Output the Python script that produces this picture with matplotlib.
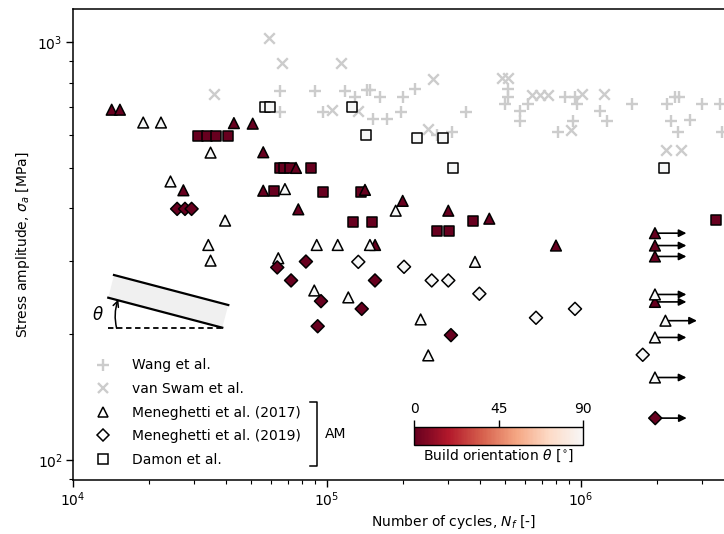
import numpy as np
import matplotlib
matplotlib.use("Agg")
import matplotlib.pyplot as plt
from matplotlib.colors import ListedColormap, Normalize
from matplotlib.cm import ScalarMappable
from matplotlib.lines import Line2D
from matplotlib.patches import Polygon

plt.rcParams['font.family'] = ['DejaVu Sans']
plt.rcParams['mathtext.fontset'] = 'dejavusans'

# ---------------- data ----------------
wang_N = [65300, 89700, 117800, 143300, 147700, 128900, 161700, 65300, 96700, 152200,
          171800, 198600, 222000, 195000, 270300, 309700, 352500, 514000, 514000, 502000,
          575000, 575000, 617000, 865000, 947000, 962000, 814000, 927000, 1.19e6, 1.262e6,
          1.59e6, 2.19e6, 2.34e6, 2.43e6, 2.26e6, 2.69e6, 2.40e6, 2.99e6, 3.52e6, 3.58e6]
wang_S = [762, 765, 765, 769, 769, 741, 741, 680, 680, 654,
          654, 741, 772, 679, 600, 611, 679, 772, 741, 711,
          683, 646, 711, 741, 741, 711, 611, 646, 683, 646,
          711, 711, 741, 741, 646, 652, 611, 711, 711, 611]

swam_N = [59300, 66300, 113600, 35900, 104300, 132800, 250500, 260700, 487000, 517000,
          640000, 690000, 743000, 1.01e6, 1.236e6, 914000, 2.17e6, 2.48e6]
swam_S = [1022, 891, 891, 752, 689, 683, 620, 817, 820, 820,
          748, 748, 748, 752, 752, 615, 553, 553]

# Meneghetti et al. (2017)
m17_N = [14200, 15300, 43000, 51000, 56100, 56100, 27200, 75500, 77100, 141100,
         154600, 198600, 300300, 435500, 797000, 1.955e6, 1.955e6, 1.955e6, 1.955e6,
         18900, 22200, 34800, 24200, 68300, 39700, 34100, 34800, 64300, 91100,
         110200, 147600, 89100, 121300, 186400, 382600, 233700, 250400,
         1.955e6, 2.15e6, 1.955e6, 1.955e6]
m17_S = [689, 689, 640, 638, 545, 441, 442, 500, 398, 443,
         327, 417, 395, 378, 326, 349, 326, 307, 239,
         642, 642, 544, 464, 445, 374, 327, 300, 304, 327,
         327, 327, 254.5, 245, 395, 298, 217, 178,
         249, 215.5, 196.5, 157.6]
m17_theta = [0] * 19 + [90] * 22
m17_runout = [0] * 15 + [1] * 4 + [0] * 18 + [1] * 4

# Meneghetti et al. (2019)
m19_N = [25700, 27600, 29300, 63700, 82600, 72200, 154500, 94700, 137000, 91900,
         307600, 1.96e6,
         132800, 201000, 258400, 300300, 398000, 665000, 947000, 1.75e6]
m19_S = [399, 399, 399, 289, 298.5, 269, 269, 240, 230, 209,
         199, 126,
         298, 290, 269, 269, 250, 219, 230, 178.6]
m19_theta = [0] * 12 + [90] * 8
m19_runout = [0] * 11 + [1] + [0] * 8

# Damon et al.
dam_N = [57000, 59700, 125100, 142400, 225600, 287100, 314000, 2.13e6,
         31150, 33600, 36450, 40850, 65300, 68000, 71200, 86200, 61800, 96200,
         135600, 126900, 150000, 376700, 270300, 303000, 3.40e6]
dam_S = [698, 698, 701, 599, 589, 591, 500, 500,
         597, 597, 597, 597, 500, 500, 500, 500, 441, 439,
         439, 372, 372, 374, 354, 354, 376]
dam_theta = [90] * 8 + [0] * 17

theta_ticks = [0, 45, 90]
x_ticks = [1e4, 1e5, 1e6]
y_ticks = [1e2, 1e3]

# ---------------- style ----------------
base = plt.get_cmap('RdBu')
cmap = ListedColormap(base(np.linspace(0.0, 0.5, 256)))
norm = Normalize(0, 90)
gray = '#cccccc'

fig = plt.figure(figsize=(7.24, 5.34), dpi=100)
ax = fig.add_axes([73 / 724, 54 / 534, 762 / 724, 471 / 534])
ax.set_xscale('log')
ax.set_yscale('log')
ax.set_xlim(1e4, 1e7)
ax.set_ylim(89.6, 1200)

ax.scatter(wang_N, wang_S, marker='+', s=64, c=gray, linewidths=1.7, zorder=2)
ax.scatter(swam_N, swam_S, marker='x', s=58, c=gray, linewidths=1.7, zorder=2)

ms_kw = dict(cmap=cmap, norm=norm, edgecolors='black', linewidths=1.1, zorder=4)
ax.scatter(dam_N, dam_S, c=dam_theta, marker='s', s=52, **ms_kw)
ax.scatter(m17_N, m17_S, c=m17_theta, marker='^', s=60, **ms_kw)
ax.scatter(m19_N, m19_S, c=m19_theta, marker='D', s=44, **ms_kw)

arrow_factor = 1.33
for Nv, Sv, r in list(zip(m17_N, m17_S, m17_runout)) + list(zip(m19_N, m19_S, m19_runout)):
    if r:
        ax.annotate('', xy=(Nv * arrow_factor, Sv), xytext=(Nv, Sv),
                    arrowprops=dict(arrowstyle='-|>', color='black', lw=1.2,
                                    mutation_scale=11, shrinkA=0, shrinkB=0),
                    zorder=3)

# axes styling
for side in ['left', 'bottom', 'top']:
    ax.spines[side].set_linewidth(1.1)
ax.spines['right'].set_visible(False)
ax.tick_params(which='major', direction='out', length=5, width=1, labelsize=10,
               top=False, right=False, pad=2.5)
ax.tick_params(which='minor', direction='out', length=3, width=0.8,
               top=False, right=False)
ax.set_xticks(x_ticks)
ax.set_yticks(y_ticks)
ax.set_xlabel(r'Number of cycles, $N_f$ [-]', fontsize=10, labelpad=3)
ax.set_ylabel(r'Stress amplitude, $\sigma_a$ [MPa]', fontsize=10, labelpad=4)

# inset sketch of build orientation
poly = Polygon([(0.0538, 0.4352), (0.2038, 0.3715), (0.1959, 0.3234), (0.0463, 0.3870)],
               closed=True, transform=ax.transAxes, facecolor='#f0f0f0', edgecolor='none', zorder=1)
ax.add_patch(poly)
ax.plot([0.0538, 0.2038], [0.4352, 0.3715], transform=ax.transAxes, color='black', lw=1.6, zorder=2)
ax.plot([0.0463, 0.1959], [0.3870, 0.3234], transform=ax.transAxes, color='black', lw=1.6, zorder=2)
ax.plot([0.0463, 0.1959], [0.3220, 0.3220], transform=ax.transAxes, color='black', lw=1.3,
        ls=(0, (3, 2)), zorder=2)
ax.annotate('', xy=(0.0594, 0.383), xytext=(0.0573, 0.322), xycoords='axes fraction',
            arrowprops=dict(arrowstyle='->', color='black', lw=1.1,
                            connectionstyle='arc3,rad=-0.15', shrinkA=0, shrinkB=0))
ax.text(0.033, 0.35, r'$\theta$', transform=ax.transAxes, fontsize=12, ha='center', va='center')

# legend
handles = [
    Line2D([], [], ls='none', marker='+', color=gray, mew=1.7, ms=8),
    Line2D([], [], ls='none', marker='x', color=gray, mew=1.7, ms=7),
    Line2D([], [], ls='none', marker='^', mfc='white', mec='black', mew=1.1, ms=7.5),
    Line2D([], [], ls='none', marker='D', mfc='white', mec='black', mew=1.1, ms=6.5),
    Line2D([], [], ls='none', marker='s', mfc='white', mec='black', mew=1.1, ms=7),
]
labels = ['Wang et al.', 'van Swam et al.', 'Meneghetti et al. (2017)',
          'Meneghetti et al. (2019)', 'Damon et al.']
ax.legend(handles, labels, loc='upper left', bbox_to_anchor=(0.0306, 0.258),
          frameon=False, fontsize=10, handlelength=1.0, handletextpad=1.6,
          labelspacing=0.69, borderpad=0, borderaxespad=0)

# bracket + AM
ax.plot([0.311, 0.3206, 0.3206, 0.311], [0.1662, 0.1662, 0.0297, 0.0297],
        transform=ax.transAxes, color='black', lw=1.1)
ax.text(0.3307, 0.0977, 'AM', transform=ax.transAxes, fontsize=10, ha='left', va='center')

# colorbar
cax = fig.add_axes([414.3 / 724, (534 - 445) / 534, 169 / 724, 18.3 / 534])
cb = fig.colorbar(ScalarMappable(norm=norm, cmap=cmap), cax=cax, orientation='horizontal',
                  ticklocation='top')
cb.set_ticks(theta_ticks)
cb.ax.tick_params(labelsize=10, length=5, width=1, pad=2.5)
cb.outline.set_linewidth(1.0)
cb.set_label(r'Build orientation $\theta$ [$^{\circ}$]', fontsize=10)
cax.xaxis.set_label_position('bottom')
cax.xaxis.labelpad = 2

fig.savefig('out.png', dpi=100)
